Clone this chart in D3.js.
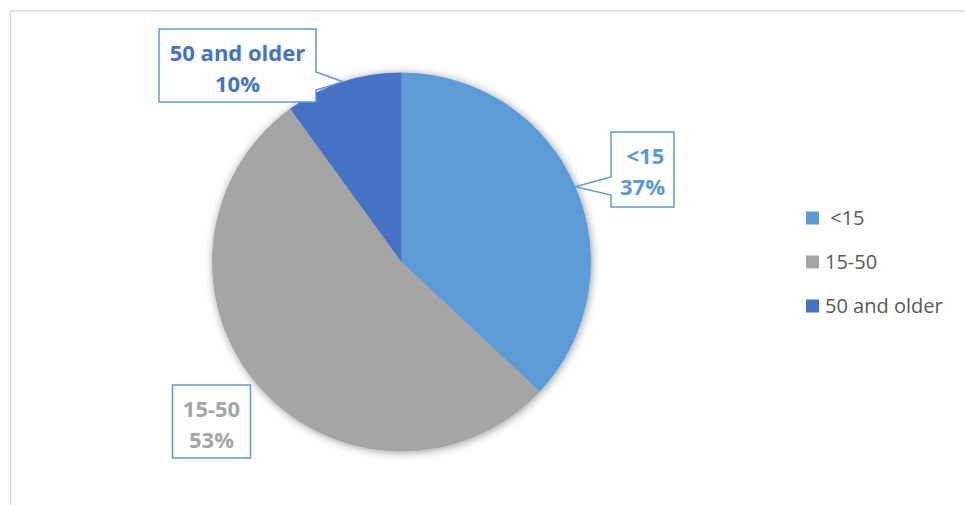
<!DOCTYPE html>
<html>
<head>
<meta charset="utf-8">
<script src="https://cdn.jsdelivr.net/npm/d3@7/dist/d3.min.js"></script>
<style>
  html, body { margin: 0; padding: 0; background: #fff; }
  svg { display: block; }
  text { font-family: "Open Sans", "Noto Sans", sans-serif; white-space: pre; }
</style>
</head>
<body>
<svg id="chart" width="965" height="505"></svg>
<script>
// Age groups and their shares
const categories = [" <15", "15-50", "50 and older"];
const values = [37, 53, 10];
const colors = ["#5B9BD5", "#A5A5A5", "#4472C4"];

const W = 965, H = 505;
const svg = d3.select("#chart");

// chart area frame
svg.append("rect")
  .attr("x", 10.5).attr("y", 11)
  .attr("width", W + 20).attr("height", H + 20)
  .attr("fill", "#fff")
  .attr("stroke", "#d9d9d9").attr("stroke-width", 1.5);

// soft shadow around the pie
const defs = svg.append("defs");
const f = defs.append("filter").attr("id", "pieShadow")
  .attr("x", "-10%").attr("y", "-10%").attr("width", "120%").attr("height", "120%");
f.append("feDropShadow")
  .attr("dx", 1).attr("dy", 1)
  .attr("stdDeviation", 4)
  .attr("flood-color", "#000").attr("flood-opacity", 0.4);

const cx = 401.5, cy = 262, r = 189.5;
const total = d3.sum(values);
const data = categories.map((c, i) => ({ cat: c, value: values[i], color: colors[i] }));

const pie = d3.pie().value(d => d.value).sort(null)
  .startAngle(0).endAngle(2 * Math.PI);
const arc = d3.arc().innerRadius(0).outerRadius(r);
const arcs = pie(data);

const g = svg.append("g").attr("transform", `translate(${cx},${cy})`);
g.append("g").attr("filter", "url(#pieShadow)")
  .selectAll("path").data(arcs).join("path")
  .attr("d", arc)
  .attr("fill", d => d.data.color);

// data label callouts: box position, size and which side carries the pointer
const boxes = [
  { x: 611, y: 132, w: 63, h: 75, side: "left",  b0: 45, b1: 63 },
  { x: 172.5, y: 385, w: 78, h: 73, side: null },
  { x: 159, y: 29, w: 157, h: 73, side: "right", b0: 43, b1: 61 }
];

const pct = d3.format(".0%");
arcs.forEach((a, i) => {
  const b = boxes[i];
  const mid = (a.startAngle + a.endAngle) / 2;
  const tip = [cx + r * Math.sin(mid), cy - r * Math.cos(mid)];
  let p;
  const x0 = b.x, y0 = b.y, x1 = b.x + b.w, y1 = b.y + b.h;
  if (b.side === "right") {
    p = `M${x0},${y0}H${x1}V${y0 + b.b0}L${tip[0]},${tip[1]}L${x1},${y0 + b.b1}V${y1}H${x0}Z`;
  } else if (b.side === "left") {
    p = `M${x0},${y0}H${x1}V${y1}H${x0}V${y0 + b.b1}L${tip[0]},${tip[1]}L${x0},${y0 + b.b0}Z`;
  } else {
    p = `M${x0},${y0}H${x1}V${y1}H${x0}Z`;
  }
  svg.append("path").attr("d", p)
    .attr("fill", "#fff")
    .attr("stroke", "#5B9BD5").attr("stroke-width", 1.5)
    .attr("stroke-linejoin", "miter");
  const t = svg.append("text")
    .attr("text-anchor", "middle")
    .attr("font-weight", "bold")
    .attr("font-size", 22)
    .attr("fill", a.data.color);
  const xc = b.x + b.w / 2;
  t.append("tspan").attr("x", xc).attr("y", b.y + 32).text(a.data.cat);
  t.append("tspan").attr("x", xc).attr("y", b.y + 63).text(pct(a.data.value / total));
});

// legend
const legend = svg.append("g");
const ly = d3.scalePoint().domain(categories).range([218, 306]);
categories.forEach((c, i) => {
  const y = ly(c);
  legend.append("rect")
    .attr("x", 806).attr("y", y - 6.5)
    .attr("width", 13).attr("height", 13)
    .attr("fill", colors[i]);
  legend.append("text")
    .attr("x", 825).attr("y", y + 7)
    .attr("font-size", 20)
    .attr("fill", "#595959")
    .text(c);
});
</script>
</body>
</html>
